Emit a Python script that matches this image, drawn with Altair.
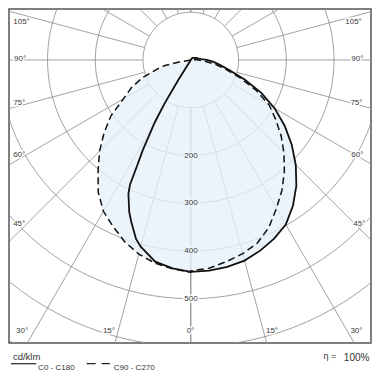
import altair as alt
import pandas as pd

# ---------------- data (gamma in degrees, cd/klm) ----------------
gamma_c0 = [0, 5, 10, 15, 20, 25, 30, 35, 40, 45, 50, 55, 60, 65, 70, 75, 80, 85, 90, 95, 100, 110, 120, 135, 150, 180]
cd_c0 = [444, 443, 440, 435, 425, 413, 398, 373, 344, 311, 276, 240, 203, 163, 120, 85, 63, 48, 34, 22, 17, 12, 9, 6, 3, 0]

gamma_c180 = [0, 5, 10, 15, 17, 20, 22, 25, 26, 27, 28, 30, 31, 32, 33, 180]
cd_c180 = [444, 438, 429, 405, 392, 363, 344, 309, 290, 245, 215, 150, 108, 50, 0, 0]

gamma_c90 = [0, 5, 10, 15, 20, 25, 30, 35, 40, 45, 50, 55, 60, 65, 70, 75, 80, 85, 90, 95, 100, 110, 180]
cd_c90 = [442, 438, 429, 420, 408, 387, 359, 333, 305, 276, 247, 217, 190, 152, 110, 76, 52, 30, 16, 8, 3, 0, 0]

gamma_c270 = [0, 5, 10, 15, 20, 25, 30, 35, 40, 45, 50, 55, 60, 65, 70, 75, 78, 80, 82, 180]
cd_c270 = [445, 439, 432, 421, 405, 385, 366, 338, 302, 270, 237, 204, 163, 137, 107, 72, 55, 25, 0, 0]

ring_values = [100, 200, 300, 400, 500, 600, 700, 800]
ring_labels = ["200", "300", "400", "500"]
spoke_angles = [0, 15, 30, 45, 60, 75, 90, 105, 120, 135, 150, 165, 180]
legend_solid = "C0  -  C180"
legend_dashed = "C90  -  C270"
unit_label = "cd/klm"
eta_label = "\u03b7 ="
eta_value = "100%"

# ---------------- layout ----------------
S = 362 / 373.0
W = 362
H = round(344.5 * S)


def px(v):
    return (v - 3.0) * S


CXR, CYR = 190.3, 55.5
K = 0.492 * S
x_dom = [-px(CXR) / K, (W - px(CXR)) / K]
y_dom = [-(H - px(CYR)) / K, px(CYR) / K]
xs = alt.Scale(domain=x_dom, nice=False, zero=False)
ys = alt.Scale(domain=y_dom, nice=False, zero=False)

XEXPR = "datum.side * datum.cd * sin(datum.gamma * PI / 180)"
YEXPR = "-datum.cd * cos(datum.gamma * PI / 180)"


def half(name, side, gam, cd):
    d = pd.DataFrame({"curve": name, "side": side, "gamma": gam, "cd": cd})
    d["seq"] = d["side"] * d["gamma"] + (0.01 if side > 0 else -0.01)
    return d


solid = pd.concat([half("solid", -1, gamma_c180, cd_c180), half("solid", 1, gamma_c0, cd_c0)])
dashed = pd.concat([half("dashed", -1, gamma_c270, cd_c270), half("dashed", 1, gamma_c90, cd_c90)])
# light fill: outer envelope (C270 on the left, C0 on the right)
fill = pd.concat([half("fill", -1, gamma_c270, cd_c270), half("fill", 1, gamma_c0, cd_c0)])

# grid
circ_rows = []
for r in ring_values:
    for t in range(0, 361, 3):
        circ_rows.append({"ring": r, "side": 1, "gamma": t, "cd": r})
circ = pd.DataFrame(circ_rows)

spoke_rows = []
for a in spoke_angles:
    for s in (-1, 1):
        spoke_rows.append({"a": a, "side": s})
spokes = pd.DataFrame(spoke_rows)

grid_col = "#8a8a8a"

spoke_layer = alt.Chart(spokes).transform_calculate(
    x="datum.side * 100 * sin(datum.a * PI / 180)",
    y="-100 * cos(datum.a * PI / 180)",
    x2="datum.side * 1200 * sin(datum.a * PI / 180)",
    y2="-1200 * cos(datum.a * PI / 180)",
).mark_rule(color=grid_col, strokeWidth=0.8, clip=True).encode(
    x=alt.X("x:Q", scale=xs, axis=None),
    y=alt.Y("y:Q", scale=ys, axis=None),
    x2="x2:Q",
    y2="y2:Q",
)

circle_layer = alt.Chart(circ).transform_calculate(x=XEXPR, y=YEXPR).mark_line(
    color=grid_col, strokeWidth=0.8, clip=True
).encode(
    x=alt.X("x:Q", scale=xs, axis=None),
    y=alt.Y("y:Q", scale=ys, axis=None),
    detail="ring:N",
    order="gamma:Q",
)

fill_layer = alt.Chart(fill).transform_calculate(x=XEXPR, y=YEXPR).mark_line(
    fill="#e6f0fa", fillOpacity=0.78, strokeOpacity=0, strokeWidth=0
).encode(
    x=alt.X("x:Q", scale=xs, axis=None),
    y=alt.Y("y:Q", scale=ys, axis=None),
    order="seq:Q",
)

solid_layer = alt.Chart(solid).transform_calculate(x=XEXPR, y=YEXPR).mark_line(
    color="#111111", strokeWidth=1.8
).encode(
    x=alt.X("x:Q", scale=xs, axis=None),
    y=alt.Y("y:Q", scale=ys, axis=None),
    order="seq:Q",
)

dashed_layer = alt.Chart(dashed).transform_calculate(x=XEXPR, y=YEXPR).mark_line(
    color="#111111", strokeWidth=1.5, strokeDash=[7, 4]
).encode(
    x=alt.X("x:Q", scale=xs, axis=None),
    y=alt.Y("y:Q", scale=ys, axis=None),
    order="seq:Q",
)

# labels (reference-pixel anchors converted to chart pixels)
ang_lab = [
    ("105\u00b0", 16, 16), ("90\u00b0", 14.5, 55), ("75\u00b0", 13.5, 100), ("60\u00b0", 13.5, 153),
    ("45\u00b0", 13.5, 225), ("30\u00b0", 16.5, 335), ("15\u00b0", 106, 335), ("0\u00b0", 190, 335),
    ("15\u00b0", 274, 335), ("30\u00b0", 361, 335), ("45\u00b0", 364, 225), ("60\u00b0", 362, 153),
    ("75\u00b0", 361, 100), ("90\u00b0", 362, 55), ("105\u00b0", 358, 16),
]
lab_rows = [{"t": t, "xp": px(x), "yp": px(y), "halo": "#ffffff"} for t, x, y in ang_lab]
ring_y = [154, 203.3, 252, 302]
ring_halo = ["#edf4fb", "#edf4fb", "#edf4fb", "#ffffff"]
for t, y, hcol in zip(ring_labels, ring_y, ring_halo):
    lab_rows.append({"t": t, "xp": px(190.5), "yp": px(y), "halo": hcol})
labs = pd.DataFrame(lab_rows)

lab_enc = dict(
    x=alt.X("xp:Q", scale=None),
    y=alt.Y("yp:Q", scale=None),
    text="t:N",
)
halo_layer = alt.Chart(labs).mark_text(
    font="Liberation Sans", fontSize=8, strokeWidth=3, baseline="middle", align="center"
).encode(stroke=alt.Stroke("halo:N", scale=None), **lab_enc)
text_layer = alt.Chart(labs).mark_text(
    font="Liberation Sans", fontSize=8, color="#3a3a3a", baseline="middle", align="center"
).encode(**lab_enc)

# legend
leg_txt = pd.DataFrame([
    {"t": unit_label, "xp": px(7), "yp": px(362), "fs": 9.5},
    {"t": legend_solid, "xp": px(33), "yp": px(372.5), "fs": 8},
    {"t": legend_dashed, "xp": px(111), "yp": px(372.5), "fs": 8},
    {"t": eta_label, "xp": px(327), "yp": px(361), "fs": 9},
    {"t": eta_value, "xp": px(348), "yp": px(363), "fs": 10},
])
leg_text_layer = alt.Chart(leg_txt).mark_text(
    font="Liberation Sans", color="#333333", baseline="middle", align="left"
).encode(
    x=alt.X("xp:Q", scale=None),
    y=alt.Y("yp:Q", scale=None),
    text="t:N",
    size=alt.Size("fs:Q", scale=None, legend=None),
)

leg_lines = pd.DataFrame([
    {"x1": px(5), "x2": px(31), "yp": px(368.5), "k": "s"},
])
leg_solid_layer = alt.Chart(leg_lines).mark_rule(color="#222222", strokeWidth=1.2).encode(
    x=alt.X("x1:Q", scale=None), x2="x2:Q", y=alt.Y("yp:Q", scale=None)
)
leg_dash = pd.DataFrame([
    {"x1": px(83), "x2": px(107), "yp": px(368.5)},
])
leg_dash_layer = alt.Chart(leg_dash).mark_rule(color="#222222", strokeWidth=1.2, strokeDash=[9, 6]).encode(
    x=alt.X("x1:Q", scale=None), x2="x2:Q", y=alt.Y("yp:Q", scale=None)
)

chart = alt.layer(
    spoke_layer, circle_layer, fill_layer, solid_layer, dashed_layer,
    halo_layer, text_layer, leg_text_layer, leg_solid_layer, leg_dash_layer,
).properties(
    width=W, height=H,
    padding={"left": 1, "top": 1, "right": 1, "bottom": 364 - 1 - H},
    autosize=alt.AutoSizeParams(type="none"),
    background="white",
).configure_view(stroke="#555555", strokeWidth=1.5)

chart.save("out.html", embed_options={"renderer": "svg", "actions": False})
